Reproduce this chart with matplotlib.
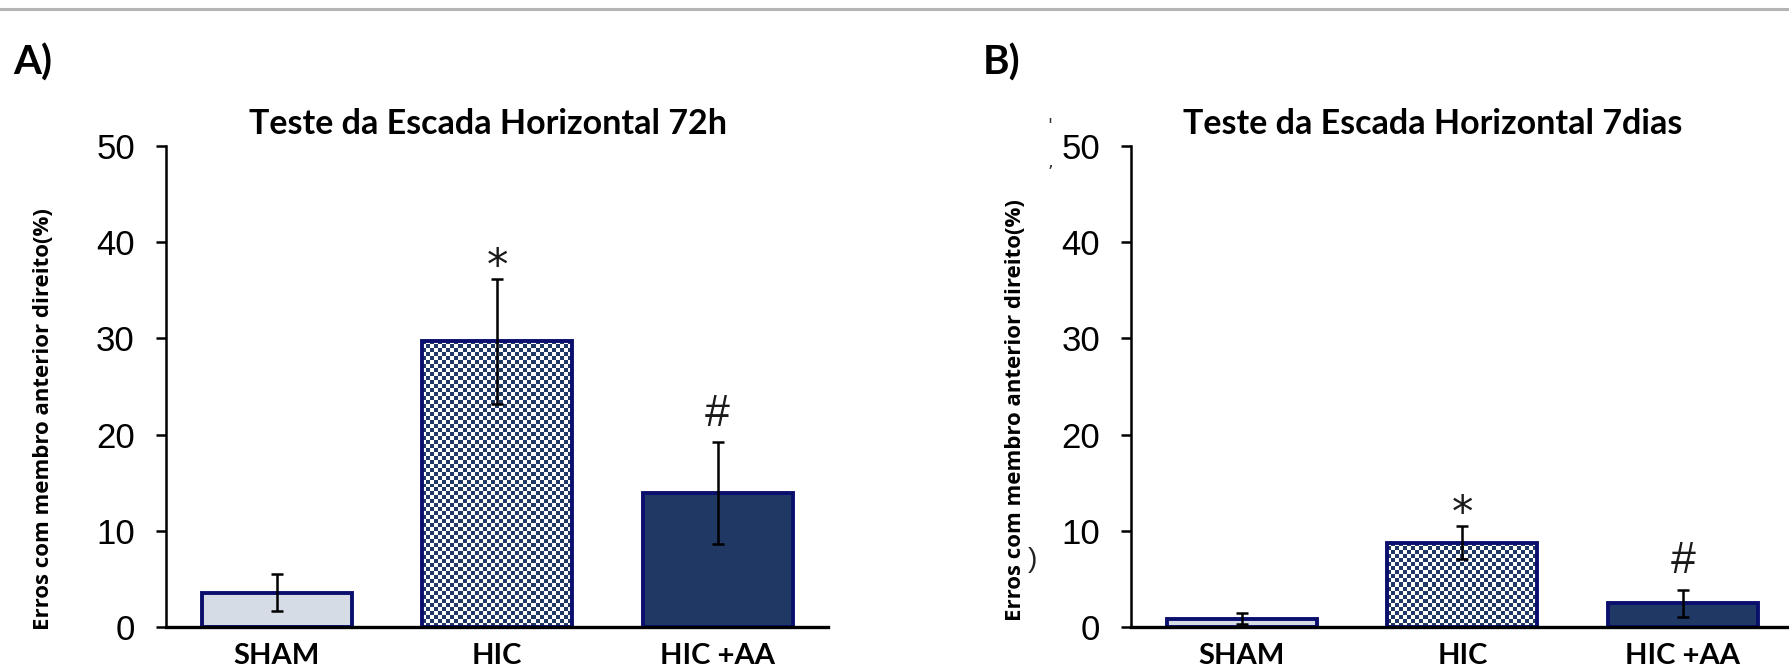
import matplotlib
matplotlib.use("Agg")
import matplotlib.pyplot as plt
import numpy as np
from matplotlib.colors import ListedColormap
from matplotlib.lines import Line2D

# data (% errors, mean and error bar half-length)
groups = ["SHAM", "HIC", "HIC +AA"]
mean_72h = [3.6, 29.7, 13.9]
err_72h = [1.9, 6.5, 5.3]
mean_7d = [0.9, 8.8, 2.5]
err_7d = [0.6, 1.7, 1.4]
marks = ["", "*", "#"]
y_ticks = [0, 10, 20, 30, 40, 50]

titles = ["Teste da Escada Horizontal 72h", "Teste da Escada Horizontal 7dias"]
panel_tags = ["A)", "B)"]
ylabel = "Erros com membro anterior direito(%)"

EDGE = "#0a0f6e"
NAVY = "#203864"
SHAM_FILL = "#d6dce5"
TICK_FONT = ["Liberation Sans Narrow", "Liberation Sans"]
BOLD_FONT = "Lato"

W, H = 1790, 667
fig = plt.figure(figsize=(W / 100, H / 100), dpi=100)
fig.patch.set_facecolor("white")


def px(x, y):
    # full-size pixel (from top-left) -> figure fraction
    return x / W, (H - y) / H


def draw_panel(left_px, means, errs):
    ax = fig.add_axes([left_px / W, 39.7 / H, 662.8 / W, 481.5 / H])
    xs = np.arange(len(groups))
    faces = [SHAM_FILL, "none", NAVY]
    bars = ax.bar(xs, means, width=0.68, color=faces, edgecolor=EDGE,
                  linewidth=2.8, zorder=2)
    ax.set_xlim(-0.503, 2.503)
    ax.set_ylim(0, 50)

    # checkerboard fill for the HIC bar
    bar = bars[1]
    x0, y0 = ax.transData.transform((bar.get_x(), 0))
    x1, y1 = ax.transData.transform((bar.get_x() + bar.get_width(), bar.get_height()))
    ncol = max(1, int(round((x1 - x0) / 4)))
    nrow = max(1, int(round((y1 - y0) / 4)))
    checker = np.add.outer(np.arange(nrow), np.arange(ncol)) % 2
    ax.imshow(checker, cmap=ListedColormap(["white", NAVY]), origin="lower",
              interpolation="nearest", aspect="auto", zorder=1.5,
              extent=[bar.get_x(), bar.get_x() + bar.get_width(), 0, bar.get_height()])
    ax.set_xlim(-0.503, 2.503)
    ax.set_ylim(0, 50)

    ax.errorbar(xs, means, yerr=errs, fmt="none", ecolor="black",
                elinewidth=1.8, capsize=4.6, capthick=1.8, zorder=3)

    for i, m in enumerate(marks):
        top = means[i] + errs[i]
        if m == "*":
            ax.text(i, top, m, ha="center", va="baseline", fontsize=31,
                    family="DejaVu Sans", color="#1a1a1a")
        elif m == "#":
            ax.text(i, top + 1.7, m, ha="center", va="baseline", fontsize=32,
                    family=TICK_FONT, color="#1a1a1a")

    for side in ["top", "right"]:
        ax.spines[side].set_visible(False)
    ax.spines["left"].set_linewidth(1.8)
    ax.spines["bottom"].set_linewidth(2.4)
    ax.spines["bottom"].set_zorder(2.6)

    ax.set_yticks(y_ticks)
    ax.set_yticklabels([str(t) for t in y_ticks], family=TICK_FONT, fontsize=25)
    ax.tick_params(axis="y", length=7.2, width=1.8, pad=15)
    ax.set_xticks(xs)
    ax.set_xticklabels(groups, family=BOLD_FONT, fontweight="bold", fontsize=21)
    ax.tick_params(axis="x", length=0, pad=11)
    ax.set_facecolor("none")
    return ax


draw_panel(165.7, mean_72h, err_72h)
draw_panel(1131.0, mean_7d, err_7d)

# titles, panel tags and y labels
for cx, title in zip([488, 1433], titles):
    fx, fy = px(cx, 134)
    fig.text(fx, fy, title, ha="center", va="baseline", family=BOLD_FONT,
             fontweight="bold", fontsize=24.5)
for lx, tag in zip([13, 983], panel_tags):
    fx, fy = px(lx, 75)
    fig.text(fx, fy, tag, ha="left", va="baseline", family=BOLD_FONT,
             fontweight="bold", fontsize=29)
for (cx, cy) in [(44, 419), (1016, 410)]:
    fx, fy = px(cx, cy)
    fig.text(fx, fy, ylabel, rotation=90, ha="center", va="center",
             family="Open Sans", fontweight="bold", fontsize=16)

# leftover marks from the source image in panel B
fig.text(*px(1050, 126), "'", ha="center", va="center", fontsize=13, color="#333333")
fig.text(*px(1050, 162), ",", ha="center", va="center", fontsize=13, color="#333333")
fig.text(*px(1032, 560), ")", ha="center", va="center", fontsize=20,
         family="Liberation Sans", color="#222222")

# grey rule along the top
fig.add_artist(Line2D([0, 1], [1 - 8.7 / H, 1 - 8.7 / H], transform=fig.transFigure,
                      color="#b4b4b4", linewidth=2.2))

fig.savefig("out.png", dpi=100, facecolor="white")
